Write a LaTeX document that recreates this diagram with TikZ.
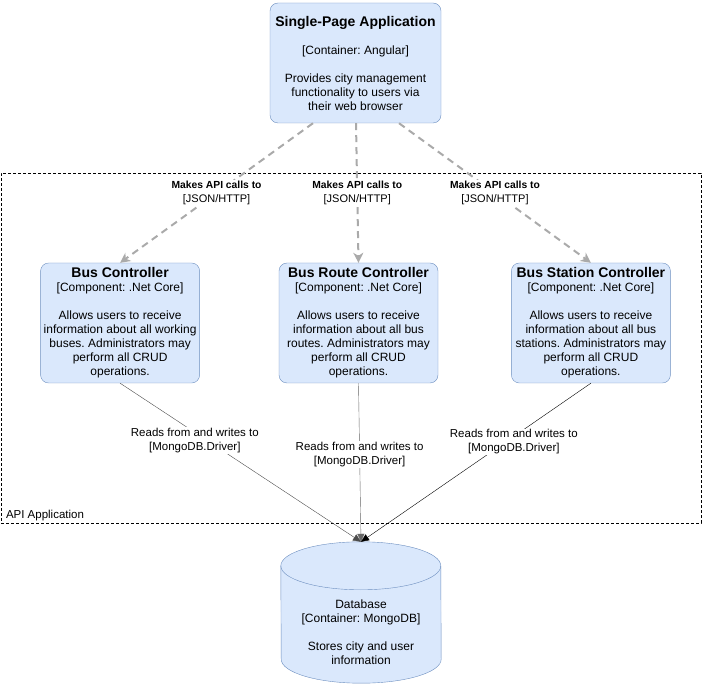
\documentclass[tikz,border=0pt]{standalone}
\usepackage{fontspec}
\setmainfont{Liberation Sans}
\frenchspacing
\usetikzlibrary{
  arrows.meta,
  positioning,  % Function "of" (e.g. [left=of route])
}
\definecolor{boxfill}{HTML}{DAE8FC}
\definecolor{boxline}{HTML}{6C8EBF}
\definecolor{callgray}{HTML}{AAAAAA}
\newcommand{\mytitle}{\fontsize{14}{14}\selectfont\bfseries}
\newcommand{\mycall}{{\fontsize{10.3}{13}\selectfont\bfseries Makes API calls to}\\{[JSON/HTTP]}}
\newcommand{\myrw}{Reads from and writes to\\{[MongoDB.Driver]}}
\def\myboxw{159pt}
\def\myboxh{120pt}
\def\myrx{80pt}
\def\myry{24pt}
\tikzset{
  font=\fontsize{12}{14}\selectfont,
  x=1pt,
  y=-1pt,
  my box/.style={
    draw=boxline,
    fill=boxfill,
    rounded corners=8pt,
    align=center,
    minimum width=\myboxw,
    minimum height=\myboxh,
    inner sep=0pt
  },
  my boundary/.style={
    draw,
    dash pattern=on 3pt off 2pt,
    minimum width=700pt,
    minimum height=350pt,
    inner sep=0pt
  },
  my cylinder/.style={
    draw=boxline,
    fill=boxfill
  },
  my call/.style={
    draw=callgray,
    line width=2pt,
    dash pattern=on 7pt off 5pt,
    -{Stealth[length=10pt,width=10pt,inset=3pt,fill=callgray]}
  },
  my rw/.style={
    -{Triangle[length=8pt,width=7pt]}
  },
  my label/.style={
    fill=white,
    align=center,
    inner sep=1pt,
    font=\fontsize{11}{13.5}\selectfont
  },
  my rw label/.style={
    my label,
    font=\fontsize{11.5}{14}\selectfont
  }
}

\begin{document}
\begin{tikzpicture}
\useasboundingbox (0,0) rectangle (702,684);
% API application boundary
\node[my boundary] (api) at (351,348) {};
\node[anchor=south west,inner sep=0pt,font=\fontsize{11.5}{13}\selectfont]
  (apilabel) at ([xshift=5pt,yshift=2pt]api.south west) {API Application};
% Containers and components
\node[my box,minimum width=171pt] (spa) at (355.5,63)
  {{\mytitle Single-Page Application}\\[14pt]{[Container: Angular]}\\[14pt]Provides city management\\functionality to users via\\their web browser};
\node[my box] (route) at (358.5,323)
  {{\mytitle Bus Route Controller}\\{[Component: .Net Core]}\\[14pt]Allows users to receive\\information about all bus\\routes. Administrators may\\perform all CRUD\\operations.};
\node[my box] (busc) [left=79pt of route]
  {{\mytitle Bus Controller}\\{[Component: .Net Core]}\\[14pt]Allows users to receive\\information about all working\\buses. Administrators may\\perform all CRUD\\operations.};
\node[my box] (station) [right=73pt of route]
  {{\mytitle Bus Station Controller}\\{[Component: .Net Core]}\\[14pt]Allows users to receive\\information about all bus\\stations. Administrators may\\perform all CRUD\\operations.};
% Database cylinder
\node[minimum width=160pt,minimum height=141pt,inner sep=0pt] (db) at (361,612.5) {};
\draw[my cylinder] ([yshift=-\myry]db.north west)
  arc[start angle=180,end angle=0,x radius=\myrx,y radius=\myry]
  -- ([yshift=\myry]db.south east)
  arc[start angle=0,end angle=-180,x radius=\myrx,y radius=\myry] -- cycle;
\draw[boxline] ([yshift=-\myry]db.north west)
  arc[start angle=180,end angle=360,x radius=\myrx,y radius=\myry];
\node[align=center,inner sep=0pt] (dbtext) at ([yshift=-20pt]db.center)
  {Database\\{[Container: MongoDB]}\\[14pt]Stores city and user\\information};
% API calls
\draw[my call] ([xshift=-42.5pt]spa.south) -- node[my label]{\mycall} (busc.north);
\draw[my call] ([xshift=0.5pt]spa.south) -- node[my label]{\mycall} (route.north);
\draw[my call] ([xshift=43.5pt]spa.south) -- node[my label]{\mycall} (station.north);
% Reads and writes
\draw[my rw,draw=black!70] (busc.south) -- node[my rw label,pos=0.36,xshift=-12pt]{\myrw} (db.north);
\draw[my rw,draw=black!60] (route.south) -- node[my rw label,pos=0.45]{\myrw} (db.north);
\draw[my rw] (station.south) -- node[my rw label,pos=0.37,xshift=8pt]{\myrw} (db.north);
\end{tikzpicture}
\end{document}
